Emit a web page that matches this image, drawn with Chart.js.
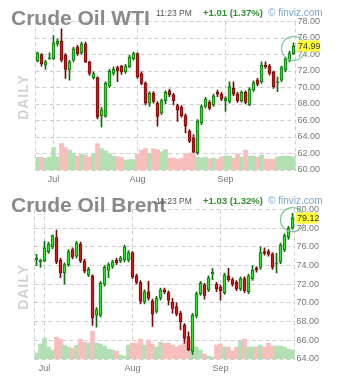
<!DOCTYPE html>
<html>
<head>
<meta charset="utf-8">
<script src="https://cdn.jsdelivr.net/npm/chart.js@4/dist/chart.umd.min.js"></script>
<style>
html,body{margin:0;padding:0;background:#fff;width:337px;height:384px;overflow:hidden;font-family:"Liberation Sans",Arial,sans-serif;}
.cv{position:absolute;left:0;}
.t{position:absolute;white-space:nowrap;}
.title{left:11px;font-weight:bold;font-size:21px;line-height:21px;color:#8a8a8a;}
.time{left:156px;font-size:8.5px;line-height:10px;color:#555;}
.chg{left:203px;font-size:9.5px;line-height:10px;font-weight:bold;color:#2f8f2f;}
.fv{left:268px;font-size:10px;line-height:10px;color:#7aa6cc;}
.daily{font-weight:bold;font-size:14px;line-height:14px;color:#d2d2d2;letter-spacing:1px;transform:rotate(-90deg);transform-origin:center center;width:50px;text-align:center;}
</style>
</head>
<body>
<canvas id="c1" class="cv" style="top:0" width="337" height="190"></canvas>
<canvas id="c2" class="cv" style="top:190px" width="337" height="194"></canvas>

<div class="t title" style="top:7px">Crude Oil WTI</div>
<div class="t time" style="top:8px">11:23 PM</div>
<div class="t chg" style="top:8px">+1.01 (1.37%)</div>
<div class="t fv" style="top:8px">© finviz.com</div>
<div class="t daily" style="left:-2px;top:90px">DAILY</div>

<div class="t title" style="top:194px">Crude Oil Brent</div>
<div class="t time" style="top:196px">11:23 PM</div>
<div class="t chg" style="top:196px">+1.03 (1.32%)</div>
<div class="t fv" style="top:196px">© finviz.com</div>
<div class="t daily" style="left:-2px;top:280px">DAILY</div>

<script>
// ---------------- WTI ----------------
const wtiDates = ["2021-06-25","2021-06-28","2021-06-29","2021-06-30",
"2021-07-01","2021-07-02","2021-07-06","2021-07-07","2021-07-08","2021-07-09","2021-07-12","2021-07-13","2021-07-14","2021-07-15","2021-07-16","2021-07-19","2021-07-20","2021-07-21","2021-07-22","2021-07-23","2021-07-26","2021-07-27","2021-07-28","2021-07-29","2021-07-30",
"2021-08-02","2021-08-03","2021-08-04","2021-08-05","2021-08-06","2021-08-09","2021-08-10","2021-08-11","2021-08-12","2021-08-13","2021-08-16","2021-08-17","2021-08-18","2021-08-19","2021-08-20","2021-08-23","2021-08-24","2021-08-25","2021-08-26","2021-08-27","2021-08-30","2021-08-31",
"2021-09-01","2021-09-02","2021-09-03","2021-09-07","2021-09-08","2021-09-09","2021-09-10","2021-09-13","2021-09-14","2021-09-15","2021-09-16","2021-09-17","2021-09-20","2021-09-21","2021-09-22","2021-09-23","2021-09-24","2021-09-27"];
const wtiOpen = [73.2,74.0,72.7,73.5,73.5,75.3,75.6,73.9,72.1,73.3,74.9,74.2,75.3,73.1,71.2,71.2,66.6,66.5,70.2,71.7,72.4,72.6,71.9,72.5,73.5,74.1,71.7,70.5,68.1,69.3,68.1,66.9,68.4,69.6,69.1,67.8,67.6,66.6,64.7,63.9,62.1,65.7,67.7,68.2,67.9,69.4,69.2,68.4,68.3,69.9,69.2,68.4,69.4,67.9,69.7,70.9,70.7,72.7,72.6,71.9,70.6,70.9,72.1,73.3,74.1];
const wtiHigh = [74.3,74.1,73.3,74.2,76.3,75.9,77.1,74.1,73.3,74.9,75.1,75.5,75.5,73.2,71.9,71.3,67.6,70.7,72.2,72.5,72.6,72.7,72.8,73.9,74.3,74.2,71.9,70.7,69.5,69.5,68.3,68.6,69.6,69.8,69.3,68.0,67.8,66.8,64.9,64.3,66.1,67.9,68.8,68.4,69.2,69.7,69.4,68.9,70.7,70.7,69.4,69.6,69.6,70.0,70.8,71.1,73.1,73.1,72.8,72.0,71.3,72.6,73.7,74.4,75.4];
const wtiLow = [73.1,72.6,72.2,73.4,73.4,75.0,73.1,71.1,70.9,73.1,73.9,74.0,73.0,71.5,71.0,66.2,65.2,66.4,70.0,71.5,70.7,71.6,71.7,72.4,73.3,71.1,70.3,67.9,67.7,68.1,65.3,66.7,68.0,68.9,67.9,65.9,66.4,64.5,63.3,62.1,61.9,65.5,67.5,67.3,67.7,68.9,68.4,67.1,68.1,69.0,68.2,68.2,68.0,67.8,69.5,70.2,70.5,72.3,71.5,69.9,69.5,70.7,71.9,73.1,74.0];
const wtiClose = [74.2,72.9,73.1,73.6,75.4,75.6,73.3,72.2,73.1,74.7,74.1,75.3,73.1,71.7,71.7,66.4,67.3,70.5,72.0,72.2,72.0,71.9,72.6,73.7,74.1,71.3,70.5,68.1,69.3,68.3,66.5,68.4,69.4,69.1,68.4,67.3,66.6,65.3,63.5,62.2,65.9,67.7,68.6,67.5,69.0,69.2,68.6,68.7,70.1,69.2,68.4,69.4,68.2,69.8,70.6,70.4,72.7,72.5,71.7,70.1,70.7,72.4,73.5,74.1,74.99];
const wtiVolume = [254,254,234,260,454,260,534,454,400,334,280,320,300,260,320,534,434,386,334,280,266,250,200,210,210,320,400,434,320,434,414,366,414,
240,240,220,240,320,340,360,260,240,260,220,240,220,260,280,280,240,320,260,400,280,280,260,300,220,220,220,260,280,280,280,260];
const wtiTicks = [60,62,64,66,68,70,72,74,76,78];

// ---------------- Brent ----------------
const brentDates = ["2021-06-29","2021-06-30",
"2021-07-01","2021-07-02","2021-07-05","2021-07-06","2021-07-07","2021-07-08","2021-07-09","2021-07-12","2021-07-13","2021-07-14","2021-07-15","2021-07-16","2021-07-19","2021-07-20","2021-07-21","2021-07-22","2021-07-23","2021-07-26","2021-07-27","2021-07-28","2021-07-29","2021-07-30",
"2021-08-02","2021-08-03","2021-08-04","2021-08-05","2021-08-06","2021-08-09","2021-08-10","2021-08-11","2021-08-12","2021-08-13","2021-08-16","2021-08-17","2021-08-18","2021-08-19","2021-08-20","2021-08-23","2021-08-24","2021-08-25","2021-08-26","2021-08-27","2021-08-30","2021-08-31",
"2021-09-01","2021-09-02","2021-09-03","2021-09-06","2021-09-07","2021-09-08","2021-09-09","2021-09-10","2021-09-13","2021-09-14","2021-09-15","2021-09-16","2021-09-17","2021-09-20","2021-09-21","2021-09-22","2021-09-23","2021-09-24","2021-09-27"];
const brentOpen = [74.6,74.4,74.5,75.5,76.0,77.0,74.6,73.2,74.1,75.7,75.0,76.3,74.5,73.0,72.9,68.7,68.7,72.0,73.5,73.9,74.6,74.5,74.6,74.6,75.4,72.9,72.2,70.1,71.2,70.2,69.1,70.5,71.4,71.1,70.1,69.6,68.9,67.6,66.4,64.8,68.6,71.0,71.9,71.4,73.1,72.0,71.7,71.1,72.9,72.5,72.2,71.5,72.6,71.2,72.6,73.7,73.8,75.5,75.5,75.2,74.2,74.4,75.7,77.0,78.0];
const brentHigh = [75.2,74.7,76.6,76.5,77.3,77.8,74.8,74.3,75.7,75.9,76.6,76.5,74.7,73.8,73.0,69.5,72.3,74.0,74.3,74.6,74.8,75.0,76.2,75.6,75.5,73.1,72.4,71.4,72.3,70.4,70.7,71.6,71.6,71.3,70.5,70.0,69.1,67.8,66.9,68.9,71.2,72.3,72.1,72.9,73.7,72.2,71.9,73.2,73.7,72.7,72.4,72.8,72.8,73.1,74.0,73.9,76.0,75.9,75.7,75.4,75.3,76.4,77.4,78.2,79.6];
const brentLow = [74.0,73.8,74.4,75.3,75.8,74.2,72.7,72.0,73.9,74.7,74.8,74.3,73.2,72.8,67.6,67.4,68.5,71.8,72.7,73.7,74.1,74.3,74.4,74.4,72.6,72.0,69.9,69.9,70.3,67.5,68.9,70.3,71.0,69.8,68.9,68.6,67.1,65.7,64.9,64.5,68.4,70.8,70.4,71.2,72.5,71.2,70.3,70.9,72.3,71.8,71.3,71.3,71.1,71.0,72.4,73.3,73.6,75.1,75.0,73.6,73.2,74.2,75.5,76.8,77.9];
const brentClose = [74.8,74.6,75.9,76.3,77.2,74.4,73.2,74.1,75.5,74.9,76.4,74.5,73.4,73.6,68.4,69.3,72.1,73.8,74.1,74.4,74.3,74.8,76.0,75.4,72.8,72.2,70.2,71.2,70.5,68.8,70.5,71.4,71.2,70.3,69.4,68.8,68.0,66.2,65.0,68.7,71.0,72.1,70.8,72.7,73.3,71.5,71.3,73.0,72.5,72.0,71.5,72.6,71.3,72.9,73.5,73.5,75.4,75.3,75.2,73.8,74.3,76.2,77.2,78.0,79.12];
const brentVolume = [120,300,420,240,180,440,400,280,240,220,280,400,340,320,560,320,300,260,200,180,160,80,60,280,320,320,400,280,380,300,240,340,320,320,280,240,280,320,360,240,240,180,100,60,40,280,300,240,240,160,240,360,400,240,240,240,280,240,320,260,260,260,240,200,180];
const brentTicks = [64,66,68,70,72,74,76,78,80];

const monthNames = ["Jan","Feb","Mar","Apr","May","Jun","Jul","Aug","Sep","Oct","Nov","Dec"];

const GREEN = '#2fe02f', GREEN_D = '#0b700b';
const RED = '#d41616', RED_D = '#760a0a';
const VOL_G = '#b3e0b3', VOL_R = '#f8bebe';
const GRID = '#cdcdcd';

function candleChart(id, dates, open, high, low, close, volume, ticks, box) {
  const n = dates.length;
  const up = close.map((c, i) => c >= open[i]);
  const monthStart = dates.map((d, i) => i > 0 && d.slice(5, 7) !== dates[i - 1].slice(5, 7));
  const lastClose = close[n - 1];

  const overlay = {
    id: 'overlay' + id,
    beforeDatasetsDraw(chart) {
      const {ctx, chartArea: a} = chart;
      ctx.save();
      ctx.strokeStyle = GRID;
      ctx.lineWidth = 1;
      ctx.setLineDash([4, 3]);
      [a.left, a.right].forEach(x => {
        ctx.beginPath();
        ctx.moveTo(x, a.top);
        ctx.lineTo(x, a.bottom);
        ctx.stroke();
      });
      ctx.restore();
    },
    afterDatasetsDraw(chart) {
      const {ctx, chartArea: a, scales} = chart;
      const x = scales.x.getPixelForValue(n - 1);
      const y = scales.y.getPixelForValue(lastClose);
      ctx.save();
      ctx.strokeStyle = '#7cc495';
      ctx.lineWidth = 1.2;
      ctx.beginPath();
      ctx.arc(x, y + 2, 12, 0, Math.PI * 2);
      ctx.stroke();
      ctx.fillStyle = '#ffff30';
      ctx.fillRect(a.right + 1.5, Math.round(y) - 5.5, 22, 11);
      ctx.fillStyle = '#333';
      ctx.font = '9px "Liberation Sans", Arial, sans-serif';
      ctx.textBaseline = 'middle';
      ctx.textAlign = 'left';
      ctx.fillText(lastClose.toFixed(2), a.right + 2.5, Math.round(y) + 0.5);
      ctx.restore();
    }
  };

  return new Chart(document.getElementById(id), {
    type: 'bar',
    data: {
      labels: dates,
      datasets: [
        {
          label: 'Body',
          data: open.map((o, i) => [o, close[i]]),
          backgroundColor: up.map(u => u ? GREEN : RED),
          borderColor: up.map(u => u ? GREEN_D : RED_D),
          borderWidth: 1,
          borderSkipped: false,
          barThickness: 3,
          grouped: false,
          order: 1,
          yAxisID: 'y'
        },
        {
          label: 'Wick',
          data: low.map((l, i) => [l, high[i]]),
          backgroundColor: up.map(u => u ? GREEN_D : RED_D),
          borderWidth: 0,
          barThickness: 1,
          grouped: false,
          order: 2,
          yAxisID: 'y'
        },
        {
          label: 'Volume',
          data: volume,
          backgroundColor: up.map(u => u ? VOL_G : VOL_R),
          borderWidth: 0,
          barPercentage: 1,
          categoryPercentage: 1,
          grouped: false,
          order: 3,
          yAxisID: 'v'
        }
      ]
    },
    options: {
      responsive: false,
      animation: false,
      devicePixelRatio: 1,
      layout: {padding: {left: box.left, top: box.top, right: 0, bottom: 0}},
      plugins: {legend: {display: false}, tooltip: {enabled: false}},
      scales: {
        x: {
          offset: true,
          grid: {
            offset: false,
            drawTicks: false,
            color: c => monthStart[c.index] ? GRID : 'rgba(0,0,0,0)',
            borderDash: [4, 3]
          },
          border: {display: false, dash: [4, 3]},
          ticks: {
            autoSkip: false,
            maxRotation: 0,
            minRotation: 0,
            padding: 4,
            color: '#777',
            font: {size: 9, family: '"Liberation Sans", Arial, sans-serif'},
            callback: (v, i) => monthStart[i] ? monthNames[parseInt(dates[i].slice(5, 7), 10) - 1] : ''
          },
          afterFit: s => { s.height = box.xh; }
        },
        y: {
          position: 'right',
          min: ticks[0],
          max: ticks[ticks.length - 1],
          afterBuildTicks: s => { s.ticks = ticks.map(v => ({value: v})); },
          grid: {color: GRID, drawTicks: false, borderDash: [4, 3]},
          border: {display: false, dash: [4, 3]},
          ticks: {
            padding: 2,
            color: '#777',
            font: {size: 9, family: '"Liberation Sans", Arial, sans-serif'},
            callback: v => Number(v).toFixed(2)
          },
          afterFit: s => { s.width = box.yw; }
        },
        v: {
          display: false,
          min: 0,
          max: 3000
        }
      }
    },
    plugins: [overlay]
  });
}

Chart.defaults.font.family = '"Liberation Sans", Arial, sans-serif';
candleChart('c1', wtiDates, wtiOpen, wtiHigh, wtiLow, wtiClose, wtiVolume, wtiTicks,
  {left: 35.5, top: 21.5, yw: 41.5, xh: 20});
candleChart('c2', brentDates, brentOpen, brentHigh, brentLow, brentClose, brentVolume, brentTicks,
  {left: 34.5, top: 19.5, yw: 42.5, xh: 25});
</script>
</body>
</html>
